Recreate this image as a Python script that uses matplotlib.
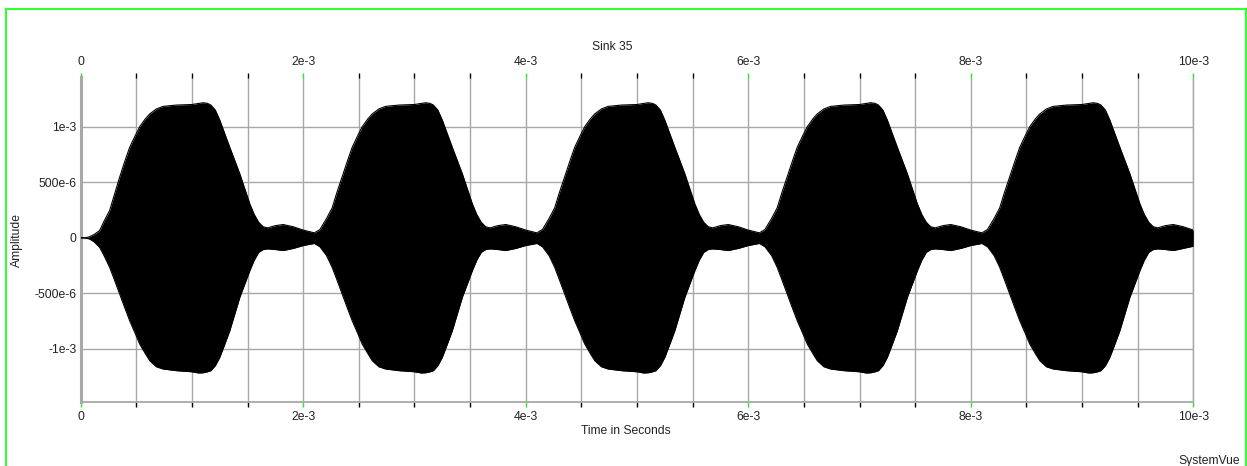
import matplotlib
matplotlib.use("Agg")
import matplotlib.pyplot as plt
from matplotlib.lines import Line2D
from matplotlib.ticker import MultipleLocator

plt.rcParams['font.family'] = ['Liberation Sans', 'DejaVu Sans']

# Envelope of the sink output (time in ms, amplitude in units of 1e-3)
time_ms = [
    0.00, 0.04, 0.08, 0.12, 0.17, 0.21, 0.26, 0.30, 0.35, 0.40, 0.44, 0.49, 0.53, 0.58, 0.62, 0.68, 0.74, 0.86,
    1.00, 1.06, 1.10, 1.14, 1.17, 1.21, 1.25, 1.29, 1.34, 1.43, 1.52, 1.56, 1.60, 1.64, 1.68, 1.75, 1.82, 1.91, 2.00,
    2.10, 2.15, 2.21, 2.26, 2.30, 2.35, 2.40, 2.44, 2.49, 2.53, 2.58, 2.62, 2.68, 2.74, 2.86,
    3.00, 3.06, 3.10, 3.14, 3.17, 3.21, 3.25, 3.29, 3.34, 3.43, 3.52, 3.56, 3.60, 3.64, 3.68, 3.75, 3.82, 3.91, 4.00,
    4.10, 4.15, 4.21, 4.26, 4.30, 4.35, 4.40, 4.44, 4.49, 4.53, 4.58, 4.62, 4.68, 4.74, 4.86,
    5.00, 5.06, 5.10, 5.14, 5.17, 5.21, 5.25, 5.29, 5.34, 5.43, 5.52, 5.56, 5.60, 5.64, 5.68, 5.75, 5.82, 5.91, 6.00,
    6.10, 6.15, 6.21, 6.26, 6.30, 6.35, 6.40, 6.44, 6.49, 6.53, 6.58, 6.62, 6.68, 6.74, 6.86,
    7.00, 7.06, 7.10, 7.14, 7.17, 7.21, 7.25, 7.29, 7.34, 7.43, 7.52, 7.56, 7.60, 7.64, 7.68, 7.75, 7.82, 7.91, 8.00,
    8.10, 8.15, 8.21, 8.26, 8.30, 8.35, 8.40, 8.44, 8.49, 8.53, 8.58, 8.62, 8.68, 8.74, 8.86,
    9.00, 9.06, 9.10, 9.14, 9.17, 9.21, 9.25, 9.29, 9.34, 9.43, 9.52, 9.56, 9.60, 9.64, 9.68, 9.75, 9.82, 9.91, 10.00,
]

upper_env = [
    0.0, 0.0, 0.01, 0.03, 0.066, 0.15, 0.246, 0.38, 0.546, 0.70, 0.815, 0.92, 1.00, 1.07, 1.115, 1.16, 1.183, 1.195,
    1.20, 1.21, 1.216, 1.21, 1.195, 1.15, 1.06, 0.95, 0.815, 0.577, 0.306, 0.21, 0.14, 0.10, 0.09, 0.11, 0.12, 0.10, 0.07,
    0.045, 0.075, 0.175, 0.27, 0.40, 0.55, 0.70, 0.815, 0.92, 1.00, 1.07, 1.115, 1.16, 1.183, 1.195,
    1.20, 1.21, 1.216, 1.21, 1.195, 1.15, 1.06, 0.95, 0.815, 0.577, 0.306, 0.21, 0.14, 0.10, 0.09, 0.11, 0.12, 0.10, 0.07,
    0.045, 0.075, 0.175, 0.27, 0.40, 0.55, 0.70, 0.815, 0.92, 1.00, 1.07, 1.115, 1.16, 1.183, 1.195,
    1.20, 1.21, 1.216, 1.21, 1.195, 1.15, 1.06, 0.95, 0.815, 0.577, 0.306, 0.21, 0.14, 0.10, 0.09, 0.11, 0.12, 0.10, 0.07,
    0.045, 0.075, 0.175, 0.27, 0.40, 0.55, 0.70, 0.815, 0.92, 1.00, 1.07, 1.115, 1.16, 1.183, 1.195,
    1.20, 1.21, 1.216, 1.21, 1.195, 1.15, 1.06, 0.95, 0.815, 0.577, 0.306, 0.21, 0.14, 0.10, 0.09, 0.11, 0.12, 0.10, 0.07,
    0.045, 0.075, 0.175, 0.27, 0.40, 0.55, 0.70, 0.815, 0.92, 1.00, 1.07, 1.115, 1.16, 1.183, 1.195,
    1.20, 1.21, 1.216, 1.21, 1.195, 1.15, 1.06, 0.95, 0.815, 0.577, 0.306, 0.21, 0.14, 0.10, 0.09, 0.11, 0.12, 0.10, 0.07,
]

lower_env = [
    0.0, 0.0, -0.01, -0.035, -0.085, -0.16, -0.265, -0.37, -0.505, -0.64, -0.745, -0.86, -0.955, -1.04, -1.105, -1.16, -1.18, -1.195,
    -1.205, -1.216, -1.214, -1.205, -1.195, -1.15, -1.075, -0.97, -0.835, -0.535, -0.295, -0.20, -0.13, -0.105, -0.099, -0.105, -0.114, -0.095, -0.069,
    -0.05, -0.08, -0.16, -0.265, -0.37, -0.505, -0.64, -0.745, -0.86, -0.955, -1.04, -1.105, -1.16, -1.18, -1.195,
    -1.205, -1.216, -1.214, -1.205, -1.195, -1.15, -1.075, -0.97, -0.835, -0.535, -0.295, -0.20, -0.13, -0.105, -0.099, -0.105, -0.114, -0.095, -0.069,
    -0.05, -0.08, -0.16, -0.265, -0.37, -0.505, -0.64, -0.745, -0.86, -0.955, -1.04, -1.105, -1.16, -1.18, -1.195,
    -1.205, -1.216, -1.214, -1.205, -1.195, -1.15, -1.075, -0.97, -0.835, -0.535, -0.295, -0.20, -0.13, -0.105, -0.099, -0.105, -0.114, -0.095, -0.069,
    -0.05, -0.08, -0.16, -0.265, -0.37, -0.505, -0.64, -0.745, -0.86, -0.955, -1.04, -1.105, -1.16, -1.18, -1.195,
    -1.205, -1.216, -1.214, -1.205, -1.195, -1.15, -1.075, -0.97, -0.835, -0.535, -0.295, -0.20, -0.13, -0.105, -0.099, -0.105, -0.114, -0.095, -0.069,
    -0.05, -0.08, -0.16, -0.265, -0.37, -0.505, -0.64, -0.745, -0.86, -0.955, -1.04, -1.105, -1.16, -1.18, -1.195,
    -1.205, -1.216, -1.214, -1.205, -1.195, -1.15, -1.075, -0.97, -0.835, -0.535, -0.295, -0.20, -0.13, -0.105, -0.099, -0.105, -0.114, -0.095, -0.075,
]

x_ticks = [0.0, 2e-3, 4e-3, 6e-3, 8e-3, 10e-3]
x_tick_labels = ["0", "2e-3", "4e-3", "6e-3", "8e-3", "10e-3"]
y_ticks = [-1e-3, -500e-6, 0.0, 500e-6, 1e-3]
y_tick_labels = ["-1e-3", "-500e-6", "0", "500e-6", "1e-3"]

MS = 1e-3
t = [v * MS for v in time_ms]
up = [v * 1e-3 for v in upper_env]
lo = [v * 1e-3 for v in lower_env]

W, H = 1247, 466
fig = plt.figure(figsize=(W / 100, H / 100), dpi=100)
fig.patch.set_facecolor("white")

ax = fig.add_axes([80.7 / W, 1 - 402 / H, (1193.3 - 80.7) / W, (402 - 77.5) / H])
ax.set_xlim(0, 10e-3)
ax.set_ylim(-1.477e-3, 1.443e-3)

grid_c = "#a8a8a8"
ax.fill_between(t, lo, up, color="black", lw=0, zorder=3)
ax.plot(t, up, color="black", lw=0.8, zorder=3)
ax.plot(t, lo, color="black", lw=0.8, zorder=3)

# axes frame
for s in ("top", "right"):
    ax.spines[s].set_visible(False)
ax.spines["left"].set_color(grid_c)
ax.spines["left"].set_linewidth(2.2)
ax.spines["bottom"].set_color(grid_c)
ax.spines["bottom"].set_linewidth(1.3)

ax.set_xticks(x_ticks)
ax.set_xticklabels(x_tick_labels)
ax.xaxis.set_minor_locator(MultipleLocator(0.5e-3))
ax.set_yticks(y_ticks)
ax.set_yticklabels(y_tick_labels)

ax.tick_params(axis="x", which="both", top=True, bottom=True, labeltop=True, labelbottom=True,
               direction="out", length=3.5, width=1.0, pad=3, labelsize=8.7, labelcolor="#222222")
ax.tick_params(axis="x", which="major", color="#22ee22")
ax.tick_params(axis="x", which="minor", color="black")
ax.tick_params(axis="y", length=0, pad=3, labelsize=8.7, labelcolor="#222222")

ax.grid(True, which="both", axis="x", color=grid_c, lw=1.0, zorder=1)
ax.grid(True, which="major", axis="y", color=grid_c, lw=1.0, zorder=1)
ax.set_axisbelow(True)
# closing grid line at the right end of the time axis
ax.axvline(x_ticks[-1], color=grid_c, lw=1.0, zorder=1, clip_on=False)

# titles and labels
fig.text(612 / W, 1 - 47 / H, "Sink 35", ha="center", va="center", fontsize=8.7, color="#222222")
fig.text(626 / W, 1 - 431 / H, "Time in Seconds", ha="center", va="center", fontsize=8.7, color="#222222")
fig.text(17 / W, 1 - 240 / H, "Amplitude", ha="center", va="center", rotation=90, fontsize=8.7, color="#222222")
fig.text(1240 / W, 1 - 461 / H, "SystemVue", ha="right", va="center", fontsize=8.7, color="#222222")

# green frame round the plot
green = "#33ff33"
top_y = 1 - 8.7 / H
fig.add_artist(Line2D([6 / W, 6 / W], [0, top_y], transform=fig.transFigure, color=green, lw=1.5))
fig.add_artist(Line2D([6 / W, 1246 / W], [top_y, top_y], transform=fig.transFigure, color=green, lw=1.5))
fig.add_artist(Line2D([1246 / W, 1246 / W], [0, top_y], transform=fig.transFigure, color=green, lw=1.5))

fig.savefig("out.png", dpi=100)
